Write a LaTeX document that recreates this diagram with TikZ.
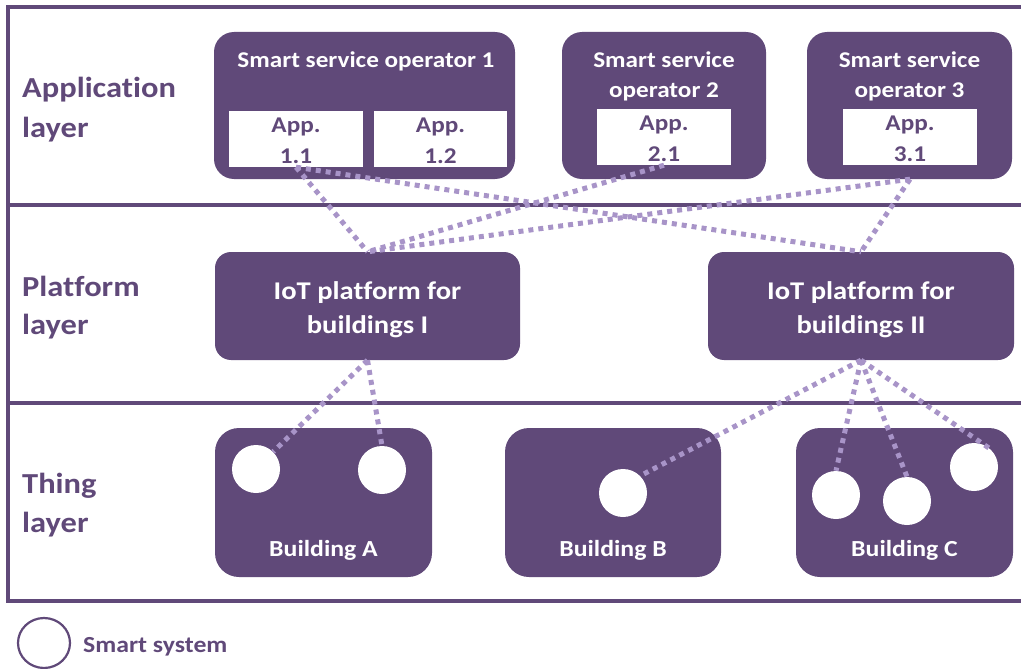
\documentclass[tikz,border=0pt]{standalone}
\usepackage{fontspec}
\setmainfont{Carlito}[FakeStretch=1.12, Ligatures=NoCommon]
\usetikzlibrary{calc,shapes.geometric}
\definecolor{plum}{RGB}{96,73,121}
\definecolor{lavender}{RGB}{168,148,200}
\tikzset{
  frameline/.style={draw=plum, line width=3.2pt},
  opbox/.style={fill=plum, rounded corners=20pt, inner sep=0pt},
  appbox/.style={fill=white, inner sep=0pt, minimum height=56pt},
  platbox/.style={fill=plum, rounded corners=16pt, inner sep=0pt, minimum width=305pt, minimum height=108pt},
  bldbox/.style={fill=plum, rounded corners=24pt, inner sep=0pt, minimum width=217pt, minimum height=149pt},
  smart/.style={circle, fill=white, inner sep=0pt, minimum size=48pt},
  link/.style={draw=lavender, line width=5pt, dash pattern=on 5pt off 5pt},
  boxtext/.style={anchor=base, text=white, font=\bfseries\fontsize{22.5}{26}\selectfont, inner sep=0pt},
  plattext/.style={anchor=base, text=white, font=\bfseries\fontsize{25.5}{30}\selectfont, inner sep=0pt},
  bldtext/.style={anchor=base, text=white, font=\bfseries\fontsize{23}{27}\selectfont, inner sep=0pt},
  apptext/.style={anchor=base, text=plum, font=\bfseries\fontsize{22.5}{26}\selectfont, inner sep=0pt},
  layertext/.style={anchor=base west, text=plum, font=\bfseries\fontsize{29}{34}\selectfont, inner sep=0pt},
}
\begin{document}
\begin{tikzpicture}[x=1pt, y=-1pt]
\useasboundingbox (0,0) rectangle (1021,669);
\clip (0,0) rectangle (1021,669);

% layer frame
\draw[frameline] (8,601) -- (8,7) -- (1040,7);
\draw[frameline] (8,205) -- (1040,205);
\draw[frameline] (8,403) -- (1040,403);
\draw[frameline] (6.4,601) -- (1040,601);

% layer labels
\node[layertext] (appl1) at (22,98) {Application};
\node[layertext] (appl2) at (22,137) {layer};
\node[layertext] (plat1) at (22,296) {Platform};
\node[layertext] (plat2) at (22,334) {layer};
\node[layertext] (thing1) at (22,493) {Thing};
\node[layertext] (thing2) at (22,532) {layer};

% application layer
\node[opbox, minimum width=301pt, minimum height=147pt] (o1) at (364.5,105.5) {};
\node[opbox, minimum width=204pt, minimum height=147pt] (o2) at (664,105.5) {};
\node[opbox, minimum width=205pt, minimum height=147pt] (o3) at (909.5,105.5) {};
\node[appbox, minimum width=134pt] (a11) at (296,139) {};
\node[appbox, minimum width=133pt] (a12) at (440.5,139) {};
\node[appbox, minimum width=134pt] (a21) at (664,137) {};
\node[appbox, minimum width=134pt] (a31) at (910,137) {};

\node[boxtext] (o1t) at (366,68) {Smart service operator 1};
\node[boxtext] (o2t1) at (664,68) {Smart service};
\node[boxtext] (o2t2) at (664,98) {operator 2};
\node[boxtext] (o3t1) at (909.5,68) {Smart service};
\node[boxtext] (o3t2) at (909.5,98) {operator 3};
\node[apptext] (a11t1) at (296,132) {App.};
\node[apptext] (a11t2) at (296,163) {1.1};
\node[apptext] (a12t1) at (440.5,132) {App.};
\node[apptext] (a12t2) at (440.5,163) {1.2};
\node[apptext] (a21t1) at (664,130) {App.};
\node[apptext] (a21t2) at (664,161) {2.1};
\node[apptext] (a31t1) at (910,130) {App.};
\node[apptext] (a31t2) at (910,161) {3.1};

% platform layer
\node[platbox] (p1) at (367.5,306) {};
\node[platbox, minimum width=306pt] (p2) at (861,306) {};
\node[plattext] (p1t1) at (367.5,299) {IoT platform for};
\node[plattext] (p1t2) at (367.5,333) {buildings I};
\node[plattext] (p2t1) at (861,299) {IoT platform for};
\node[plattext] (p2t2) at (861,333) {buildings II};

% thing layer
\node[bldbox] (ba) at (323.5,502.5) {};
\node[bldbox, minimum width=216pt] (bb) at (613,502.5) {};
\node[bldbox] (bc) at (904.5,502.5) {};
\node[bldtext] (bat) at (323.5,556) {Building A};
\node[bldtext] (bbt) at (613,556) {Building B};
\node[bldtext] (bct) at (904.5,556) {Building C};
\node[smart] (sa1) at (256,469) {};
\node[smart] (sa2) at (382,470) {};
\node[smart] (sb1) at (623,493) {};
\node[smart] (sc1) at (836,495) {};
\node[smart] (sc2) at (907,501) {};
\node[smart] (sc3) at (974,467) {};

% links between layers
\draw[link] (a11.south) -- (p1.north);
\draw[link] (a11.south) -- (p2.north);
\draw[link] (a21.south) -- (p1.north);
\draw[link] (a31.south |- o3.south) -- (p1.north);
\draw[link] (a31.south |- o3.south) -- (p2.north);
\draw[link] (p1.south) -- (sa1.45);
\draw[link] (p1.south) -- (sa2.north);
\draw[link] (p2.south) -- (sb1.45);
\draw[link] (p2.south) -- (sc1.north);
\draw[link] (p2.south) -- (sc2.north);
\draw[link] (p2.south) -- (sc3.50);

% legend
\node[ellipse, draw=plum, line width=2.2pt, fill=white, inner sep=0pt, minimum width=52pt, minimum height=50pt] (leg) at (44,643) {};
\node[anchor=base west, text=plum, font=\bfseries\fontsize{23}{27}\selectfont, inner sep=0pt] (legt) at (83,652) {Smart system};
\end{tikzpicture}
\end{document}
